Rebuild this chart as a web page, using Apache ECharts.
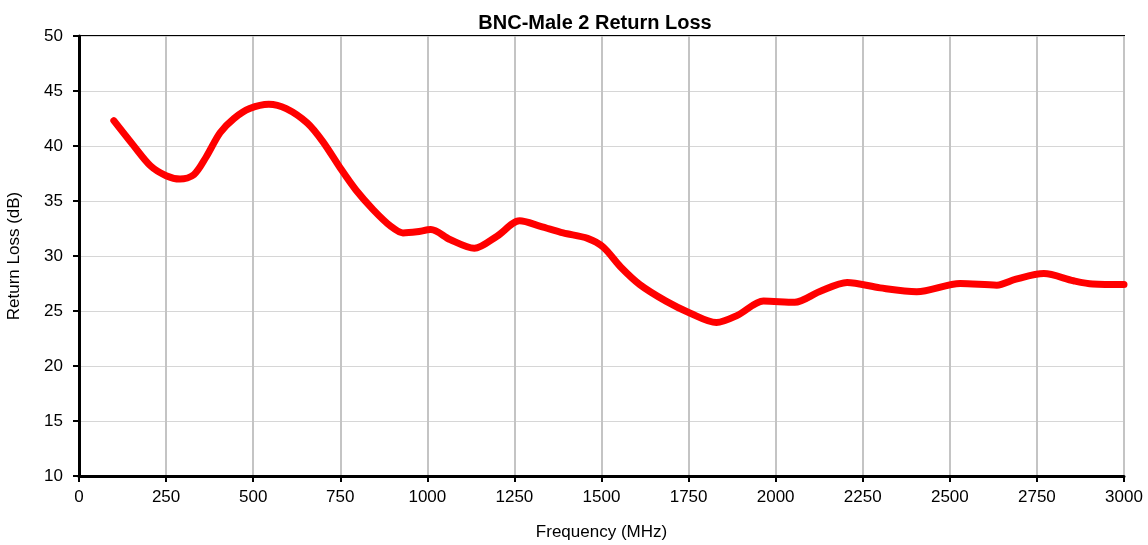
<!DOCTYPE html>
<html>
<head>
	<meta charset="utf-8" />
	<script src="https://cdn.jsdelivr.net/npm/echarts@6/dist/echarts.min.js"></script>
	<style>
		html, body { margin: 0; padding: 0; background: #fff; }
	</style>
</head>
<body>
	<div id="main" style="width: 1148px;height:545px;"></div>

	<script type="text/javascript">
		// frequency points (MHz) and return loss (dB)
		var freqs = [100, 155, 205, 250, 290, 330, 365, 405, 445, 490, 545, 595, 655, 700, 750, 795, 845, 895, 930,
			970, 1010, 1065, 1135, 1200, 1265, 1325, 1390, 1460, 1505, 1555, 1610, 1685, 1755, 1830, 1890, 1965,
			2055, 2125, 2205, 2300, 2405, 2530, 2635, 2690, 2770, 2855, 2910, 3000];
		var returnLoss = [42.3, 40.1, 38.2, 37.3, 37.0, 37.4, 39.0, 41.2, 42.5, 43.4, 43.8, 43.4, 42.1, 40.4, 38.0, 36.0, 34.2, 32.7, 32.1,
			32.2, 32.4, 31.5, 30.7, 31.8, 33.2, 32.7, 32.1, 31.6, 30.8, 29.0, 27.4, 25.9, 24.8, 23.95, 24.6, 25.9,
			25.8, 26.75, 27.6, 27.1, 26.75, 27.5, 27.35, 27.9, 28.4, 27.75, 27.45, 27.4];

		var chart = echarts.init(document.getElementById('main'));

		var font = 'Liberation Sans, Arial, sans-serif';

		var option = {
			animation: false,
			title: {
				text: 'BNC-Male 2 Return Loss',
				left: 590,
				top: 8,
				textAlign: 'center',
				textStyle: { fontFamily: font, fontSize: 20, fontWeight: 'bold', color: '#000' }
			},
			grid: {
				left: 79, right: 24, top: 36, bottom: 69,
				outerBoundsMode: 'none',
				containLabel: false,
				show: true, borderColor: '#000', borderWidth: 2
			},
			xAxis: {
				type: 'value',
				min: 0, max: 3000, interval: 250,
				name: 'Frequency (MHz)',
				nameLocation: 'middle',
				nameGap: 48,
				nameTextStyle: { fontFamily: font, fontSize: 17, color: '#000' },
				axisLine: { show: true, lineStyle: { color: '#000', width: 3 } },
				axisTick: { show: true, length: 6, lineStyle: { color: '#000', width: 2 } },
				axisLabel: {
					fontFamily: font, fontSize: 17, color: '#000', margin: 13,
					formatter: function (v) { return String(v); }
				},
				splitLine: { show: true, lineStyle: { color: '#c4c4c4', width: 2 } }
			},
			yAxis: {
				type: 'value',
				min: 10, max: 50, interval: 5,
				name: 'Return Loss (dB)',
				nameLocation: 'middle',
				nameGap: 56,
				nameTextStyle: { fontFamily: font, fontSize: 17, color: '#000' },
				axisLine: { show: true, lineStyle: { color: '#000', width: 3 } },
				axisTick: { show: true, length: 6, lineStyle: { color: '#000', width: 2 } },
				axisLabel: { fontFamily: font, fontSize: 17, color: '#000', margin: 16 },
				splitLine: { show: true, lineStyle: { color: '#d6d6d6', width: 1 } }
			},
			series: [
				{
					type: 'line',
					data: freqs.map(function (f, i) { return [f, returnLoss[i]]; }),
					smooth: 0.3,
					showSymbol: false,
					lineStyle: { color: '#ff0000', width: 7, cap: 'round', join: 'round' }
				}
			]
		};

		chart.setOption(option);
	</script>
</body>
</html>
